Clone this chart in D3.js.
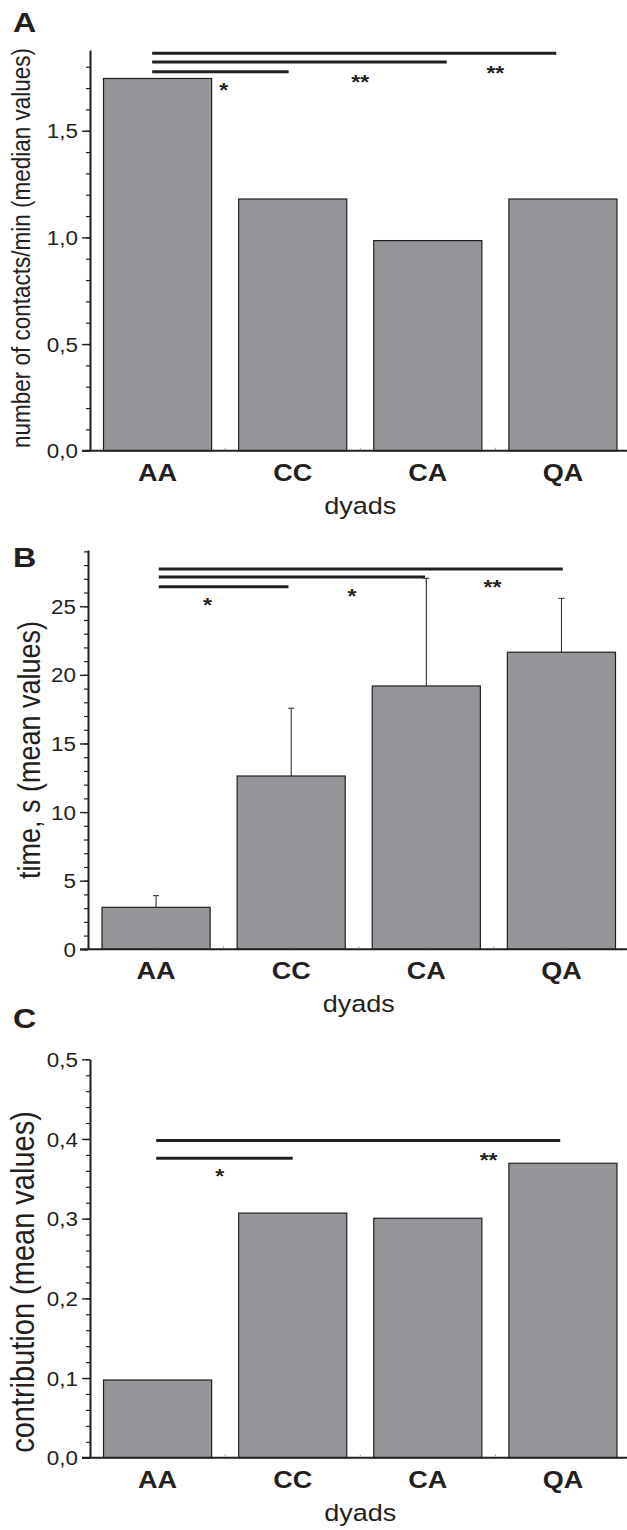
<!DOCTYPE html>
<html>
<head>
<meta charset="utf-8">
<script src="https://cdn.jsdelivr.net/npm/d3@7"></script>
<style>
  body { margin: 0; background: #fff; }
  svg { display: block; font-family: 'Liberation Sans', Arial, Helvetica, sans-serif; }
</style>
</head>
<body>
<div id="chart"></div>
<script>
// data
const categories = ['AA', 'CC', 'CA', 'QA'];

const contactsMedian = [1.745, 1.18, 0.985, 1.18];
const contactsTicks = [0, 0.5, 1.0, 1.5];

const timeMean = [3.06, 12.63, 19.19, 21.65];
const timeError = [0.85, 4.94, 7.85, 3.93];
const timeTicks = [0, 5, 10, 15, 20, 25];

const contributionMean = [0.0975, 0.307, 0.3005, 0.3695];
const contributionTicks = [0, 0.1, 0.2, 0.3, 0.4, 0.5];

// significance bars: from/to in category index units, y in data units
const contactsSig = [
  { from: -0.04, to: 0.97, y: 1.777 },
  { from: -0.04, to: 2.14, y: 1.822 },
  { from: -0.04, to: 2.95, y: 1.863 },
];
const contactsStars = [
  { at: 0.49, y: 1.71, label: '*' },
  { at: 1.5, y: 1.747, label: '**' },
  { at: 2.5, y: 1.789, label: '**' },
];

const timeSig = [
  { from: 0.02, to: 0.98, y: 26.43 },
  { from: 0.02, to: 1.99, y: 27.13 },
  { from: 0.02, to: 3.01, y: 27.72 },
];
const timeStars = [
  { at: 0.38, y: 25.41, label: '*' },
  { at: 1.45, y: 26.04, label: '*' },
  { at: 2.49, y: 26.7, label: '**' },
];

const contributionSig = [
  { from: -0.01, to: 1.0, y: 0.3757 },
  { from: -0.01, to: 2.98, y: 0.398 },
];
const contributionStars = [
  { at: 0.46, y: 0.359, label: '*' },
  { at: 2.45, y: 0.3786, label: '**' },
];

const W = 627;
const H = 1530;
const ink = '#231f20';
const barFill = '#939598';
const stretch = 1.15; // the figure text is a bit wider than tall

const commaLocale = d3.formatLocale({
  decimal: ',',
  thousands: '.',
  grouping: [3],
  currency: ['', ''],
});

const svg = d3
  .select('#chart')
  .append('svg')
  .attr('width', W)
  .attr('height', H);

function drawPanel(cfg) {
  const g = svg.append('g');

  const x = d3
    .scaleBand()
    .domain(categories)
    .range(cfg.xRange)
    .paddingInner(0.2)
    .paddingOuter(0.1);

  const y = d3
    .scaleLinear()
    .domain([0, cfg.yMax])
    .range([cfg.zeroY, cfg.topY]);

  const xi = (i) => x(categories[0]) + x.bandwidth() / 2 + i * x.step();

  const rows = categories.map((c, i) => ({
    cat: c,
    value: cfg.values[i],
    err: cfg.errors ? cfg.errors[i] : null,
  }));

  // error bars (drawn behind the bars)
  if (cfg.errors) {
    const eb = g
      .selectAll('.err')
      .data(rows)
      .enter()
      .append('g')
      .attr('stroke', ink)
      .attr('stroke-width', 1);
    eb.append('line')
      .attr('x1', (d) => x(d.cat) + x.bandwidth() / 2)
      .attr('x2', (d) => x(d.cat) + x.bandwidth() / 2)
      .attr('y1', (d) => y(d.value))
      .attr('y2', (d) => y(d.value + d.err));
    eb.append('line')
      .attr('x1', (d) => x(d.cat) + x.bandwidth() / 2 - 3)
      .attr('x2', (d) => x(d.cat) + x.bandwidth() / 2 + 3)
      .attr('y1', (d) => y(d.value + d.err))
      .attr('y2', (d) => y(d.value + d.err));
  }

  g.selectAll('.bar')
    .data(rows)
    .enter()
    .append('rect')
    .attr('x', (d) => x(d.cat))
    .attr('y', (d) => y(d.value))
    .attr('width', x.bandwidth())
    .attr('height', (d) => y(0) - y(d.value))
    .attr('fill', barFill)
    .attr('stroke', ink)
    .attr('stroke-width', 1.2);

  // y axis: minor then major ticks
  const minorTicks = d3.range(0, cfg.yMax + 1e-9, cfg.minorStep);
  const minorAxis = g
    .append('g')
    .attr('transform', `translate(${cfg.axisX},0)`)
    .call(
      d3.axisLeft(y).tickValues(minorTicks).tickSize(4).tickSizeOuter(0).tickFormat('')
    );
  minorAxis.select('.domain').remove();
  minorAxis.selectAll('line').attr('stroke', ink).attr('stroke-width', 1.2);

  const majorAxis = g
    .append('g')
    .attr('transform', `translate(${cfg.axisX},0)`)
    .call(
      d3
        .axisLeft(y)
        .tickValues(cfg.ticks)
        .tickSize(8)
        .tickSizeOuter(0)
        .tickFormat(cfg.format)
    );
  majorAxis.select('.domain').attr('stroke', ink).attr('stroke-width', 2);
  majorAxis.selectAll('line').attr('stroke', ink).attr('stroke-width', 1.4);
  majorAxis
    .selectAll('text')
    .attr('x', 0)
    .attr('dy', '0.36em')
    .attr('transform', `translate(-12,0) scale(${stretch},1)`)
    .attr('fill', ink)
    .style('font-size', '19.5px')
    .style('font-family', null);

  // x axis line with the little grid ticks
  g.append('line')
    .attr('x1', cfg.axisX - 8)
    .attr('x2', W)
    .attr('y1', y(0))
    .attr('y2', y(0))
    .attr('stroke', ink)
    .attr('stroke-width', 2);

  const smallTicks = [];
  categories.forEach((c, i) => {
    smallTicks.push(i);
    if (i > 0) smallTicks.push(i - 0.5);
  });
  g.selectAll('.xt')
    .data(smallTicks)
    .enter()
    .append('line')
    .attr('x1', (d) => xi(d))
    .attr('x2', (d) => xi(d))
    .attr('y1', y(0) - 1)
    .attr('y2', y(0) - 3)
    .attr('stroke', '#9a9a9a')
    .attr('stroke-width', 1);

  g.selectAll('.cat')
    .data(categories)
    .enter()
    .append('text')
    .attr(
      'transform',
      (d) => `translate(${x(d) + x.bandwidth() / 2},${y(0) + 30}) scale(${stretch},1)`
    )
    .attr('text-anchor', 'middle')
    .attr('font-weight', 'bold')
    .attr('font-size', 23.5)
    .attr('fill', ink)
    .text((d) => d);

  const mid = (cfg.xRange[0] + cfg.xRange[1]) / 2;
  g.append('text')
    .attr('transform', `translate(${mid},${y(0) + 63}) scale(${stretch},1)`)
    .attr('text-anchor', 'middle')
    .attr('font-size', 23.5)
    .attr('fill', ink)
    .text('dyads');

  g.append('text')
    .attr(
      'transform',
      `translate(${cfg.labelX},${cfg.labelY}) scale(${stretch},1) rotate(-90)`
    )
    .attr('text-anchor', 'middle')
    .attr('font-size', cfg.labelSize)
    .attr('fill', ink)
    .text(cfg.yLabel);

  g.append('text')
    .attr('transform', `translate(13,${cfg.letterY}) scale(${stretch},1)`)
    .attr('font-size', 28)
    .attr('font-weight', 'bold')
    .attr('fill', ink)
    .text(cfg.letter);

  // significance lines and stars
  g.selectAll('.sig')
    .data(cfg.sig)
    .enter()
    .append('line')
    .attr('x1', (d) => xi(d.from))
    .attr('x2', (d) => xi(d.to))
    .attr('y1', (d) => y(d.y))
    .attr('y2', (d) => y(d.y))
    .attr('stroke', ink)
    .attr('stroke-width', 3);

  g.selectAll('.star')
    .data(cfg.stars)
    .enter()
    .append('text')
    .attr('transform', (d) => `translate(${xi(d.at)},${y(d.y) + 11}) scale(${stretch},1)`)
    .attr('text-anchor', 'middle')
    .attr('font-size', 20)
    .attr('font-weight', 'bold')
    .attr('fill', ink)
    .text((d) => d.label);
}

drawPanel({
  letter: 'A',
  letterY: 32,
  values: contactsMedian,
  ticks: contactsTicks,
  minorStep: 0.1,
  format: commaLocale.format('.1f'),
  yMax: 1.8785,
  zeroY: 450.7,
  topY: 50,
  axisX: 90,
  xRange: [90, 630.5],
  yLabel: 'number of contacts/min (median values)',
  labelSize: 22.5,
  labelX: 30,
  labelY: 248,
  sig: contactsSig,
  stars: contactsStars,
});

drawPanel({
  letter: 'B',
  letterY: 567,
  values: timeMean,
  errors: timeError,
  ticks: timeTicks,
  minorStep: 1,
  format: d3.format('d'),
  yMax: 29.1,
  zeroY: 949.3,
  topY: 550,
  axisX: 88,
  xRange: [88.5, 629],
  yLabel: 'time, s (mean values)',
  labelSize: 27,
  labelX: 40,
  labelY: 750,
  sig: timeSig,
  stars: timeStars,
});

drawPanel({
  letter: 'C',
  letterY: 1028,
  values: contributionMean,
  ticks: contributionTicks,
  minorStep: 0.02,
  format: commaLocale.format('.1f'),
  yMax: 0.5,
  zeroY: 1457.7,
  topY: 1059.3,
  axisX: 90,
  xRange: [90, 630.5],
  yLabel: 'contribution (mean values)',
  labelSize: 29,
  labelX: 34,
  labelY: 1282,
  sig: contributionSig,
  stars: contributionStars,
});
</script>
</body>
</html>
